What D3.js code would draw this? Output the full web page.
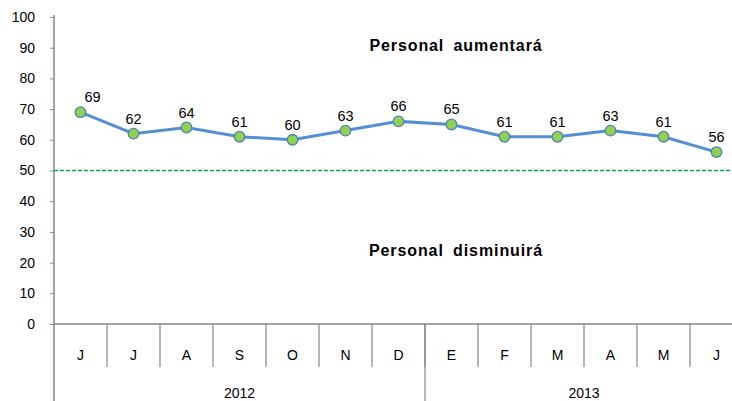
<!DOCTYPE html>
<html>
<head>
<meta charset="utf-8">
<script src="https://cdn.jsdelivr.net/npm/d3@7"></script>
<style>
  body { margin: 0; background: #fff; }
  svg { display: block; font-family: "Liberation Sans", Arial, sans-serif; }
</style>
</head>
<body>
<svg id="chart" width="732" height="401"></svg>
<script>
// --- datos ---
const meses = ["J", "J", "A", "S", "O", "N", "D", "E", "F", "M", "A", "M", "J"];
const anios = ["2012", "2013"];
const mesesPorAnio = [7, 6];
const valores = [69, 62, 64, 61, 60, 63, 66, 65, 61, 61, 63, 61, 56];
const yTicks = [0, 10, 20, 30, 40, 50, 60, 70, 80, 90, 100];
const referencia = 50;

const svg = d3.select("#chart"),
    margin = { top: 17, right: -11, bottom: 77, left: 54 },
    width = +svg.attr("width") - margin.left - margin.right,
    height = +svg.attr("height") - margin.top - margin.bottom;

const g = svg.append("g")
    .attr("transform", `translate(${margin.left},${margin.top})`);

const idx = meses.map((d, i) => i);

const x = d3.scaleBand()
    .domain(idx)
    .range([0, width]);

const y = d3.scaleLinear()
    .domain([0, 100])
    .range([height, 0]);

const gris = "#868686";

// eje Y
const yAxis = g.append("g")
    .call(d3.axisLeft(y).tickValues(yTicks).tickSize(4).tickPadding(15));
yAxis.select(".domain").remove();
yAxis.selectAll("line").attr("stroke", gris);
yAxis.selectAll("text").attr("font-size", 14).attr("fill", "#000")
    .attr("font-family", "Liberation Sans, Arial, sans-serif");

g.append("line")
    .attr("x1", 0).attr("x2", 0)
    .attr("y1", -2).attr("y2", +svg.attr("height") - margin.top)
    .attr("stroke", gris).attr("stroke-width", 1.5);

// eje X
g.append("line")
    .attr("x1", 0).attr("x2", width)
    .attr("y1", height).attr("y2", height)
    .attr("stroke", gris).attr("stroke-width", 1.5);

g.selectAll(".sep")
    .data(idx.slice(1))
    .enter()
    .append("line")
    .attr("class", "sep")
    .attr("x1", d => x(d)).attr("x2", d => x(d))
    .attr("y1", height).attr("y2", height + 43)
    .attr("stroke", gris).attr("stroke-width", 1.2);

g.selectAll(".mes")
    .data(meses)
    .enter()
    .append("text")
    .attr("class", "mes")
    .attr("x", (d, i) => x(i) + x.bandwidth() / 2)
    .attr("y", height + 36)
    .attr("text-anchor", "middle")
    .attr("font-size", 14)
    .text(d => d);

// grupos de anios
let inicio = 0;
const grupos = anios.map((a, k) => {
    const gr = { anio: a, desde: inicio, hasta: inicio + mesesPorAnio[k] };
    inicio += mesesPorAnio[k];
    return gr;
});

g.selectAll(".anioSep")
    .data(grupos.slice(1))
    .enter()
    .append("line")
    .attr("x1", d => x(d.desde)).attr("x2", d => x(d.desde))
    .attr("y1", height).attr("y2", height + 80)
    .attr("stroke", gris).attr("stroke-width", 1.2);

g.selectAll(".anio")
    .data(grupos)
    .enter()
    .append("text")
    .attr("x", d => (x(d.desde) + x(d.hasta - 1) + x.bandwidth()) / 2)
    .attr("y", height + 74)
    .attr("text-anchor", "middle")
    .attr("font-size", 14)
    .text(d => d.anio);

// linea de referencia
g.append("line")
    .attr("x1", 0).attr("x2", width)
    .attr("y1", y(referencia)).attr("y2", y(referencia))
    .attr("stroke", "#00b050")
    .attr("stroke-width", 1.3)
    .attr("stroke-dasharray", "4,2");

// textos
[["Personal aumentará", 51], ["Personal disminuirá", 256]].forEach(([t, yy]) => {
    g.append("text")
        .attr("x", 456 - margin.left).attr("y", yy - margin.top)
        .attr("text-anchor", "middle")
        .attr("font-size", 16).attr("font-weight", "bold")
        .attr("letter-spacing", 0.9)
        .attr("word-spacing", 4)
        .text(t);
});

// serie
const line = d3.line()
    .x((d, i) => x(i) + x.bandwidth() / 2)
    .y(d => y(d));

g.append("path")
    .datum(valores)
    .attr("fill", "none")
    .attr("stroke", "#558ed5")
    .attr("stroke-width", 3)
    .attr("d", line);

g.selectAll("circle")
    .data(valores)
    .enter()
    .append("circle")
    .attr("cx", (d, i) => x(i) + x.bandwidth() / 2)
    .attr("cy", d => y(d))
    .attr("r", 5.3)
    .attr("fill", "#92d050")
    .attr("stroke", "#4f81bd")
    .attr("stroke-width", 1.3);

g.selectAll(".etq")
    .data(valores)
    .enter()
    .append("text")
    .attr("class", "etq")
    .attr("x", (d, i) => x(i) + x.bandwidth() / 2 + (i === 0 ? 12 : 0))
    .attr("y", d => y(d) - 10)
    .attr("text-anchor", "middle")
    .attr("font-size", 14.5)
    .text(d => d);
</script>
</body>
</html>
